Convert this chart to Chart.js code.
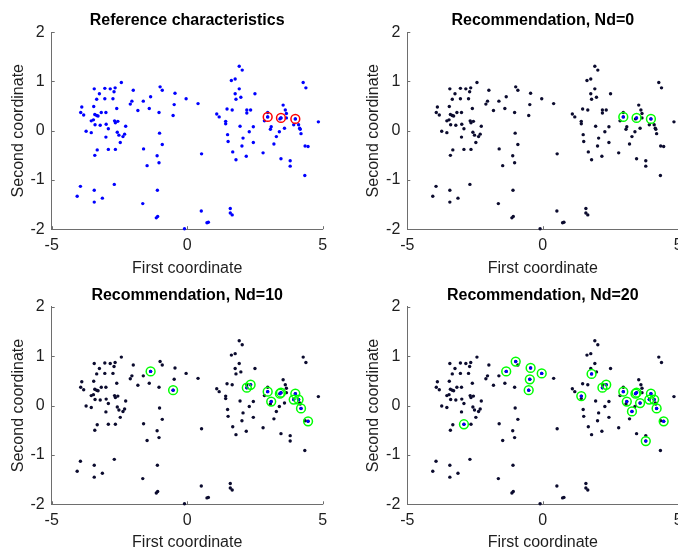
<!DOCTYPE html>
<html><head><meta charset="utf-8">
<script src="https://cdn.jsdelivr.net/npm/chart.js@4.4.1/dist/chart.umd.min.js"></script>
<style>
html,body{margin:0;padding:0;width:678px;height:549px;overflow:hidden;background:#fff;}
canvas{position:absolute;}
</style></head><body>
<canvas id="c1" width="340" height="280" style="left:0px;top:0px"></canvas>
<canvas id="c2" width="340" height="280" style="left:355px;top:0px"></canvas>
<canvas id="c3" width="340" height="280" style="left:0px;top:274px"></canvas>
<canvas id="c4" width="340" height="280" style="left:355px;top:274px"></canvas>
<script>
// ---- data ----
const titles = ['Reference characteristics', 'Recommendation, Nd=0', 'Recommendation, Nd=10', 'Recommendation, Nd=20'];
const xLabel = 'First coordinate';
const yLabel = 'Second coordinate';
const xTicks = [-5, 0, 5];
const yTicks = [-2, -1, 0, 1, 2];

const pointsX = [
 -2.43,-3.43,-3.04,-2.84,-2.66,-1.99,-3.24,-2.70,-3.34,-3.04,-2.74,-2.04,-2.10,-3.89,-3.45,-2.60,
 -3.93,-3.82,-3.41,-3.34,-3.29,-3.17,-3.00,-3.46,-3.54,-3.40,-3.21,-2.99,-2.68,-2.56,-2.65,-2.27,
 -3.73,-3.54,-2.91,-2.58,-2.52,-2.31,-2.37,-2.47,-3.00,-3.32,-3.41,-2.91,-2.65,-3.94,-2.69,-3.43,
 -4.06,-3.13,-3.43,
 -1.82,-1.62,-1.35,-1.40,-1.00,-0.92,-1.04,-0.45,-0.48,-0.52,-0.04,0.40,1.09,1.18,-1.02,-0.92,
 -1.61,-1.11,-1.04,-1.48,0.53,-1.10,-1.64,-1.09,-1.14,0.52,0.73,0.78,-0.10,
 1.47,1.42,1.42,1.49,1.51,1.59,1.59,1.66,1.92,2.03,1.63,1.77,1.92,2.50,1.77,1.98,1.80,1.66,2.20,
 2.34,2.20,4.28,4.38,2.97,2.97,2.85,3.54,3.62,3.66,3.46,3.42,3.66,3.99,3.93,4.11,4.15,4.17,4.20,
 4.84,3.10,3.07,3.59,3.40,3.29,3.20,1.95,2.44,2.29,2.06,2.02,2.44,1.68,1.80,2.18,2.80,3.46,3.80,
 3.80,4.35,4.46,4.34
];
const pointsY = [
 0.98,0.85,0.86,0.85,0.87,0.82,0.75,0.79,0.64,0.65,0.65,0.60,0.54,0.48,0.49,0.45,
 0.37,0.32,0.33,0.31,0.30,0.37,0.37,0.22,0.20,0.12,0.11,0.13,0.20,0.19,0.16,0.09,
 -0.01,-0.04,0.04,-0.03,-0.09,-0.07,-0.12,-0.24,-0.13,-0.39,-0.50,-0.38,-0.38,-1.13,-1.09,-1.21,
 -1.33,-1.37,-1.45,
 0.41,0.60,0.69,0.45,0.89,0.82,0.37,0.76,0.53,0.31,0.65,0.55,0.34,0.28,-0.05,-0.28,
 -0.37,-0.51,-0.65,-0.71,-0.47,-1.21,-1.48,-1.74,-1.77,-1.63,-1.87,-1.86,-1.99,
 0.44,0.19,0.14,-0.08,-0.22,-1.58,-1.67,-1.71,1.31,1.23,1.02,1.05,0.85,0.75,0.75,0.68,0.64,0.42,0.42,
 0.42,0.36,0.98,0.87,0.28,0.37,0.20,0.52,0.42,0.35,0.26,0.24,0.26,0.24,0.12,0.12,0.05,0.03,-0.06,
 0.18,0.08,0.03,0.05,-0.02,-0.12,-0.27,0.09,0.08,-0.02,-0.15,-0.31,-0.24,-0.43,-0.59,-0.52,-0.45,-0.57,-0.61,
 -0.72,-0.31,-0.32,-0.91
];

// reference characteristics (panels 1 and 2)
const refX = [2.97, 3.46, 3.99];
const refY = [0.28, 0.26, 0.24];
// recommendations, Nd=10
const nd10X = [2.97, 3.46, 3.99, -1.35, -0.52, 2.20, 2.34, 3.10, 3.42, 3.93, 4.11, 4.20, 4.46];
const nd10Y = [0.28, 0.26, 0.24, 0.69, 0.31, 0.36, 0.42, 0.08, 0.24, 0.12, 0.12, -0.06, -0.32];
// recommendations, Nd=20
const nd20X = [2.97, 3.46, 3.99, -2.91, -1.35, -1.00, -0.45, -0.48, -0.52, -0.04, 1.42, 1.80, 2.20, 2.34, 3.10, 3.29, 3.42, 3.59, 3.93, 4.11, 4.20, 4.46, 3.80];
const nd20Y = [0.28, 0.26, 0.24, -0.38, 0.69, 0.89, 0.76, 0.53, 0.31, 0.65, 0.19, 0.64, 0.36, 0.42, 0.08, -0.12, 0.24, 0.05, 0.12, 0.12, -0.06, -0.32, -0.72];

// ---- styling ----
const BLUE = '#0000ff';
const DARK = '#0b0b2e';
const RED = '#ff0000';
const GREEN = '#00ff00';
const AXIS = '#6e6e6e';
const TEXT = '#1e1e1e';

Chart.defaults.font.family = "'Liberation Sans', Arial, Helvetica, sans-serif";
Chart.defaults.font.size = 16;
Chart.defaults.color = TEXT;

const toPts = (xs, ys) => xs.map((v, i) => ({x: v, y: ys[i]}));

const centerTitle = {
  id: 'centerTitle',
  afterLayout(chart) {
    const t = chart.titleBlock;
    if (t) { t.left = chart.chartArea.left; t.right = chart.chartArea.right; }
  }
};
const inwardTicks = {
  id: 'inwardTicks',
  afterDraw(chart) {
    const {ctx, chartArea: a, scales: {x, y}} = chart;
    ctx.save();
    ctx.strokeStyle = AXIS; ctx.lineWidth = 1;
    ctx.beginPath();
    x.ticks.forEach(t => { const px = Math.round(x.getPixelForValue(t.value)) + 0.5; ctx.moveTo(px, a.bottom); ctx.lineTo(px, a.bottom - 3); });
    y.ticks.forEach(t => { const py = Math.round(y.getPixelForValue(t.value)) + 0.5; ctx.moveTo(a.left, py); ctx.lineTo(a.left + 3, py); });
    ctx.stroke();
    ctx.restore();
  }
};

const layoutsCfg = [
  {id: 'c1', axisW: 51.7, tTop: 11,   tBot: 2, xAxisH: 50.8, tickPad: 7,   xtBot: 1.9},
  {id: 'c2', axisW: 52.3, tTop: 11,   tBot: 2, xAxisH: 50.8, tickPad: 7,   xtBot: 1.9},
  {id: 'c3', axisW: 51.7, tTop: 11.5, tBot: 2, xAxisH: 49.7, tickPad: 6.5, xtBot: 1.4},
  {id: 'c4', axisW: 52.3, tTop: 11.5, tBot: 2, xAxisH: 49.7, tickPad: 6.5, xtBot: 1.4}
];
const highlights = [
  {pts: toPts(refX, refY), ring: RED},
  {pts: toPts(refX, refY), ring: GREEN},
  {pts: toPts(nd10X, nd10Y), ring: GREEN},
  {pts: toPts(nd20X, nd20Y), ring: GREEN}
];
const allPts = toPts(pointsX, pointsY);

layoutsCfg.forEach((L, i) => {
  const hl = highlights[i];
  new Chart(document.getElementById(L.id), {
    type: 'scatter',
    data: {
      datasets: [
        {data: hl.pts, pointRadius: 4.4, pointHoverRadius: 4.4, backgroundColor: 'rgba(0,0,0,0)', borderColor: hl.ring, borderWidth: 1.5, order: 1, clip: false},
        {data: hl.pts, pointRadius: 1.6, pointHoverRadius: 1.6, backgroundColor: BLUE, borderWidth: 0, order: 2, clip: false},
        {data: allPts, pointRadius: 1.7, pointHoverRadius: 1.7, backgroundColor: i === 0 ? BLUE : DARK, borderWidth: 0, order: 3, clip: false}
      ]
    },
    options: {
      responsive: false,
      animation: false,
      devicePixelRatio: 1,
      events: [],
      layout: {padding: {left: 0, top: 0, bottom: 0, right: 340 - L.axisW - 271}},
      plugins: {
        legend: {display: false},
        tooltip: {enabled: false},
        title: {display: true, text: titles[i], color: '#000', font: {size: 16, weight: 'bold'}, padding: {top: L.tTop, bottom: L.tBot}}
      },
      scales: {
        x: {
          type: 'linear', min: -5, max: 5,
          afterBuildTicks: s => { s.ticks = xTicks.map(v => ({value: v})); },
          afterFit: s => { s.height = L.xAxisH; },
          grid: {display: false, drawTicks: false},
          border: {display: true, color: AXIS, width: 1},
          ticks: {padding: L.tickPad, color: TEXT, font: {size: 16}, autoSkip: false, maxRotation: 0},
          title: {display: true, text: xLabel, color: TEXT, font: {size: 16}, padding: {top: 0, bottom: L.xtBot}}
        },
        y: {
          type: 'linear', min: -2, max: 2,
          afterBuildTicks: s => { s.ticks = yTicks.map(v => ({value: v})); },
          afterFit: s => { s.width = L.axisW; },
          grid: {display: false, drawTicks: false},
          border: {display: true, color: AXIS, width: 1},
          ticks: {padding: 7, color: TEXT, font: {size: 16}, autoSkip: false},
          title: {display: true, text: yLabel, color: TEXT, font: {size: 16}, padding: {top: 9, bottom: 0}}
        }
      }
    },
    plugins: [centerTitle, inwardTicks]
  });
});
</script>
</body></html>
